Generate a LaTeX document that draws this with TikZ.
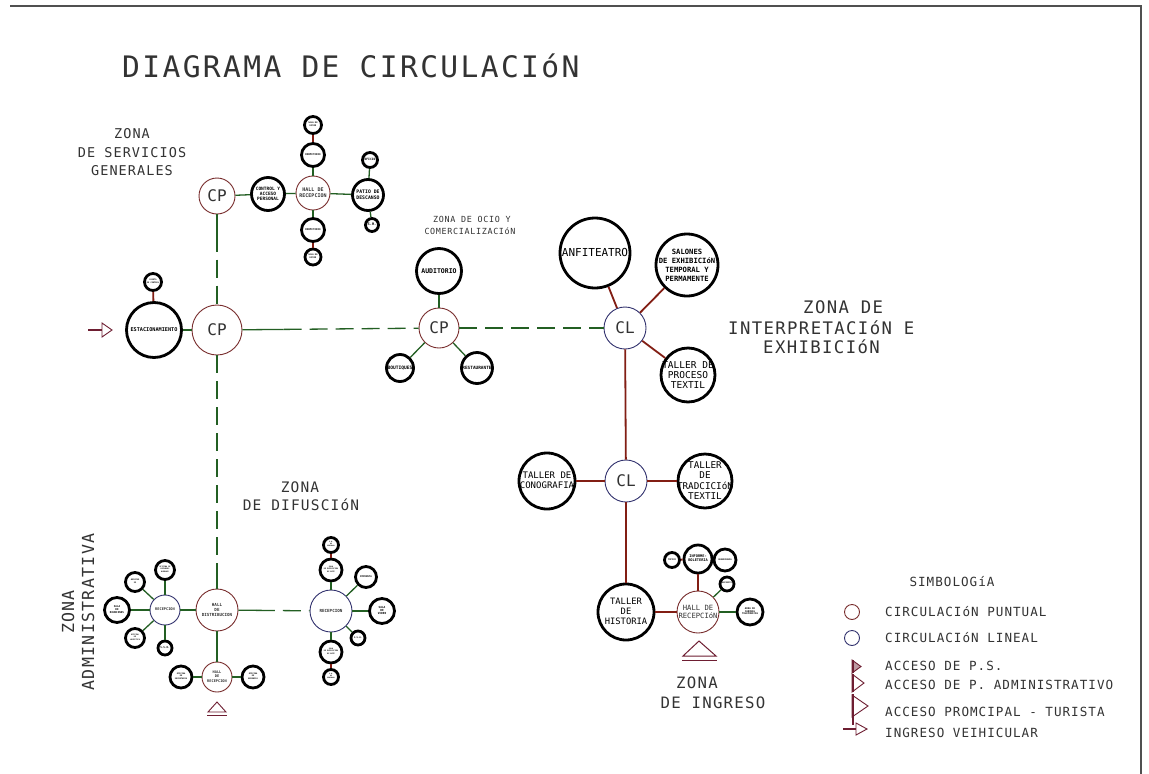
\documentclass[tikz,border=0pt]{standalone}
\usepackage{fontspec}
\newfontfamily\cad{DejaVu Sans Mono}
\newfontfamily\cadw[LetterSpace=8]{DejaVu Sans Mono}
\usetikzlibrary{calc}
\newcommand\ct[1]{\makebox[0pt]{\smash{\raisebox{-0.36em}{\begin{tabular}{@{}c@{}}#1\end{tabular}}}}}
\definecolor{gl}{RGB}{35,95,35}
\definecolor{rl}{RGB}{130,30,20}
\definecolor{brc}{RGB}{120,45,45}
\definecolor{nvc}{RGB}{50,50,110}
\definecolor{frm}{RGB}{80,80,80}
\definecolor{mar}{RGB}{110,30,50}
\tikzset{
 spn/.style={circle, draw=black, line width=2.8pt, minimum size=#1, inner sep=0pt, fill=white},
 cpn/.style={circle, draw=brc, line width=0.9pt, minimum size=#1, inner sep=0pt, fill=white, text=black!80},
 cln/.style={circle, draw=nvc, line width=0.9pt, minimum size=#1, inner sep=0pt, fill=white, text=black!80},
 big/.style={font=\cad\fontsize{16}{16}\selectfont},
 t/.style 2 args={font=\cad\bfseries\fontsize{#1}{#2}\selectfont},
 tr/.style 2 args={font=\cad\fontsize{#1}{#2}\selectfont},
 gline/.style={draw=gl, line width=1.3pt},
 rline/.style={draw=rl, line width=1.8pt},
 gdash/.style={gline, dash pattern=on 18pt off 8pt},
 zl/.style={font=\cadw\fontsize{#1}{#1}\selectfont, text=black!80, inner sep=0pt},
 mk/.style={draw=mar, line width=0.9pt},
}
\begin{document}
\begin{tikzpicture}[x=1pt,y=-1pt]
\fill[white] (0,0) rectangle (1149,774);
\useasboundingbox (0,0) rectangle (1149,774);
\draw[frm, line width=1.4pt] (10,6) -- (1141,6) -- (1141,774);

% titles and zone labels
\node[zl=29.6, anchor=west] (title) at (122,66) {DIAGRAMA DE CIRCULACIóN};
\node[zl=13.5] (zs1) at (132,134) {ZONA};
\node[zl=13.5] (zs2) at (132,153) {DE SERVICIOS};
\node[zl=13.5] (zs3) at (132,171) {GENERALES};
\node[zl=8.4] (zo1) at (472,219) {ZONA DE OCIO Y};
\node[zl=8.4] (zo2) at (470,231) {COMERCIALIZACIóN};
\node[zl=17.3, anchor=west] (zi1) at (803,307) {ZONA DE};
\node[zl=17.3, anchor=west] (zi2) at (728,328) {INTERPRETACIóN E};
\node[zl=17.3, anchor=west] (zi3) at (763,347) {EXHIBICIóN};
\node[zl=14.5] (zd1) at (300,487) {ZONA};
\node[zl=14.5] (zd2) at (301,505) {DE DIFUSCIóN};
\node[zl=16.6, rotate=90] (za1) at (68,612) {ZONA};
\node[zl=16.6, rotate=90] (za2) at (88,612) {ADMINISTRATIVA};
\node[zl=15.7] (zg1) at (697,683) {ZONA};
\node[zl=15.7] (zg2) at (713,703) {DE INGRESO};

% services
\node[cpn=36pt, big] (cps) at (217,196) {CP};
\node[spn=33pt, t={4.5}{5.2}] (ctrl) at (268,194) {\ct{CONTROL Y\\ACCESO\\PERSONAL}};
\node[cpn=34pt, t={5}{6}] (halls) at (313,193) {\ct{HALL DE\\RECEPCION}};
\node[spn=31pt, t={4.8}{5.8}] (patio) at (368,195) {\ct{PATIO DE\\DESCANSO}};
\node[spn=15pt, t={3}{3.5}] (ofic) at (370,160) {\ct{OFICIO}};
\node[spn=13pt, t={3.6}{4}] (shs) at (372,225) {\ct{S.H.}};
\node[spn=23pt, t={2.5}{3}] (dorm1) at (313,155) {\ct{DORMITORIO}};
\node[spn=17pt, t={2.2}{2.6}] (top1) at (313,125) {\ct{SALA DE\\ESTAR}};
\node[spn=23pt, t={2.5}{3}] (dorm2) at (313,230) {\ct{DORMITORIO}};
\node[spn=16pt, t={2.2}{2.6}] (bot1) at (313,257) {\ct{SALA DE\\ESTAR}};

% parking and main CP
\node[spn=55pt, t={5.2}{6}] (est) at (154,330) {\ct{ESTACIONAMIENTO}};
\node[spn=17pt, t={2}{2.4}] (cas) at (153,282) {\ct{CASETA\\DE CONTROL}};
\node[cpn=50pt, big] (cpm) at (217,330) {CP};

% ocio
\node[spn=45pt, t={6.5}{7}] (aud) at (439,271) {\ct{AUDITORIO}};
\node[cpn=40pt, big] (cpo) at (439,328) {CP};
\node[spn=27pt, t={4.6}{5}] (bout) at (400,368) {\ct{BOUTIQUES}};
\node[spn=31pt, t={4.4}{5}] (rest) at (477,368) {\ct{RESTAURANTE}};

% interpretation
\node[cln=42pt, big] (cl1) at (625,328) {CL};
\node[spn=70pt, tr={11}{12}] (anfi) at (595,253) {\ct{ANFITEATRO}};
\node[spn=62pt, t={7.2}{9}] (salo) at (687,265) {\ct{SALONES\\DE EXHIBICIóN\\TEMPORAL Y\\PERMAMENTE}};
\node[spn=54pt, tr={9.5}{10}] (proc) at (688,375) {\ct{TALLER DE\\PROCESO\\TEXTIL}};
\node[cln=42pt, big] (cl2) at (626,481) {CL};
\node[spn=56pt, tr={9}{10}] (cono) at (547,481) {\ct{TALLER DE\\CONOGRAFIA}};
\node[spn=54pt, tr={9.3}{10}] (trad) at (705,481) {\ct{TALLER\\DE\\TRADCICIóN\\TEXTIL}};
\node[spn=56pt, tr={8.8}{10}] (hist) at (626,612) {\ct{TALLER\\DE\\HISTORIA}};
\node[cpn=42pt, tr={7.2}{7.7}] (halli) at (698,612) {\ct{HALL DE\\RECEPCIóN}};
\node[spn=28pt, t={3.6}{4}] (info) at (698,559) {\ct{INFORME-\\BOLETERIA}};
\node[spn=15pt, t={2.2}{2.6}] (topi) at (672,560) {\ct{TOPICO}};
\node[spn=22pt, t={2.2}{2.6}] (guar) at (725,560) {\ct{GUARDIANIA}};
\node[spn=14pt, t={2}{2.4}] (depo) at (727,584) {\ct{DEPOSITO}};
\node[spn=26pt, t={2.4}{2.8}] (cabi) at (750,612) {\ct{AREA DE\\CABINAS\\TELEFONICAS}};

% administration
\node[cpn=42pt, t={4.2}{5}] (halld) at (217,610) {\ct{HALL\\DE\\DISTRIBUCION}};
\node[cln=30pt, t={3.6}{4}] (reca) at (165,610) {\ct{RECEPCION}};
\node[spn=25pt, t={2.6}{3}] (salr) at (117,610) {\ct{SALA\\DE\\REUNIONES}};
\node[spn=19pt, t={2}{2.3}] (arch) at (135,582) {\ct{ARCHIVO\\SS}};
\node[spn=19pt, t={1.8}{2.2}] (ofrh) at (165,570) {\ct{OFICINA DE\\RECURSOS\\HUMANOS}};
\node[spn=19pt, t={1.8}{2.2}] (oflo) at (135,638) {\ct{OFICINA\\DE\\LOGISTICA}};
\node[spn=14pt, t={2.6}{3}] (sha) at (165,648) {\ct{S.S.H.}};
\node[cpn=30pt, t={3.6}{4.2}] (hallr) at (217,677) {\ct{HALL\\DE\\RECEPCION}};
\node[spn=22pt, t={2}{2.4}] (ofse) at (181,677) {\ct{OFICINA\\DE\\SECRETARIA}};
\node[spn=22pt, t={2}{2.4}] (ofge) at (253,677) {\ct{OFICINA\\DE\\GERENCIA}};

% difusion
\node[cln=42pt, t={4.2}{5}] (recd) at (331,611) {\ct{RECEPCION}};
\node[spn=25pt, t={2.8}{3.3}] (video) at (382,611) {\ct{SALA\\DE\\VIDEO}};
\node[spn=21pt, t={2.4}{3}] (impr) at (366,577) {\ct{IMPRENTA}};
\node[spn=14pt, t={2.2}{2.6}] (shd) at (358,638) {\ct{S.S.H.}};
\node[spn=22pt, t={1.8}{2.2}] (up1) at (331,570) {\ct{SALA\\DE EXPOSICION\\DE ARTE}};
\node[spn=15pt, t={1.6}{2}] (up2) at (331,545) {\ct{S.H.\\DE\\PERSONAL}};
\node[spn=22pt, t={1.8}{2.2}] (dn1) at (331,652) {\ct{SALA\\DE EXPOSICION\\DE ARTE}};
\node[spn=15pt, t={1.6}{2}] (dn2) at (331,677) {\ct{S.H.\\DE\\PERSONAL}};

% main dashed circulation
\coordinate (m0) at ($(cps)!0.28!(cpm)$);
\coordinate (m1) at ($(cpm)!0.3!(cpo)$);
\coordinate (m2) at ($(halld)!0.16!(cpm)$);
\coordinate (m3) at ($(halld)!0.35!(recd)$);
\draw[gline] (cps) -- (m0);
\draw[gdash] (m0) -- (cpm);
\draw[gline] (cpm) -- (m1);
\draw[gdash] (m1) -- (cpo);
\draw[gdash] (cpo) -- (cl1);
\draw[gdash] (cpm) -- (m2);
\draw[gline] (m2) -- (halld);
\draw[gline] (halld) -- (m3);
\draw[gdash] (m3) -- (recd);

% green connectors
\draw[gline] (cps) -- (ctrl);
\draw[gline] (ctrl) -- (halls);
\draw[gline] (halls) -- (patio);
\draw[gline] (patio) -- (ofic);
\draw[gline] (patio) -- (shs);
\draw[gline] (halls) -- (dorm1);
\draw[gline] (halls) -- (dorm2);
\draw[gline] (est) -- (cpm);
\draw[gline] (cpo) -- (aud);
\draw[gline] (cpo) -- (bout);
\draw[gline] (cpo) -- (rest);
\draw[gline] (halli) -- (depo);
\draw[gline] (halli) -- (cabi);
\draw[gline] (reca) -- (halld);
\draw[gline] (reca) -- (salr);
\draw[gline] (reca) -- (arch);
\draw[gline] (reca) -- (ofrh);
\draw[gline] (reca) -- (oflo);
\draw[gline] (reca) -- (sha);
\draw[gline] (halld) -- (hallr);
\draw[gline] (hallr) -- (ofse);
\draw[gline] (hallr) -- (ofge);
\draw[gline] (recd) -- (video);
\draw[gline] (recd) -- (impr);
\draw[gline] (recd) -- (shd);
\draw[gline] (recd) -- (up1);
\draw[gline] (recd) -- (dn1);

% red connectors
\draw[rline] (dorm1) -- (top1);
\draw[rline] (dorm2) -- (bot1);
\draw[rline] (est) -- (cas);
\draw[rline] (cl1) -- (anfi);
\draw[rline] (cl1) -- (salo);
\draw[rline] (cl1) -- (proc);
\draw[rline] (cl1) -- (cl2);
\draw[rline] (cl2) -- (cono);
\draw[rline] (cl2) -- (trad);
\draw[rline] (cl2) -- (hist);
\draw[rline] (hist) -- (halli);
\draw[rline] (halli) -- (info);
\draw[rline] (info) -- (topi);
\draw[rline] (up1) -- (up2);
\draw[rline] (dn1) -- (dn2);

% accesses
\draw[mar, line width=2.2pt] (88,330) -- (103,330);
\draw[mk, fill=white] (102,323) -- (112,330) -- (102,337) -- cycle;
\draw[mk] (208,712) -- (217,702) -- (226,712) -- cycle;
\draw[mk] (207,715.5) -- (227,715.5);
\draw[mk, line width=1pt] (683,656) -- (699,641) -- (716,656) -- cycle;
\draw[mk, line width=1pt] (682,660) -- (717,660);

% legend
\node[zl=12.6] (lgt) at (952,582) {SIMBOLOGíA};
\node[cpn=15pt] (lg1) at (852,612) {};
\node[cln=15pt] (lg2) at (852,638) {};
\node[zl=12.6, anchor=west] (lt1) at (885,612) {CIRCULACIóN PUNTUAL};
\node[zl=12.6, anchor=west] (lt2) at (885,638) {CIRCULACIóN LINEAL};
\node[zl=12.6, anchor=west] (lt3) at (885,666) {ACCESO DE P.S.};
\node[zl=12.6, anchor=west] (lt4) at (885,685) {ACCESO DE P. ADMINISTRATIVO};
\node[zl=12.6, anchor=west] (lt5) at (885,712) {ACCESO PROMCIPAL - TURISTA};
\node[zl=12.6, anchor=west] (lt6) at (885,733) {INGRESO VEIHICULAR};
\draw[mk, fill=mar!45] (852,660) -- (861,666.5) -- (852,673) -- cycle;
\draw[mar, line width=2pt] (852.5,660) -- (852.5,673);
\draw[mk, fill=white] (852,674) -- (864,683) -- (852,692) -- cycle;
\draw[mar, line width=2pt] (852.5,674) -- (852.5,692);
\draw[mk, fill=white] (852,695) -- (868,706) -- (852,717) -- cycle;
\draw[mar, line width=2pt] (852.5,694) -- (852.5,725);
\draw[mar, line width=2pt] (843,729) -- (857,729);
\draw[mk, fill=white] (856,723) -- (867,729) -- (856,735) -- cycle;
\end{tikzpicture}
\end{document}
